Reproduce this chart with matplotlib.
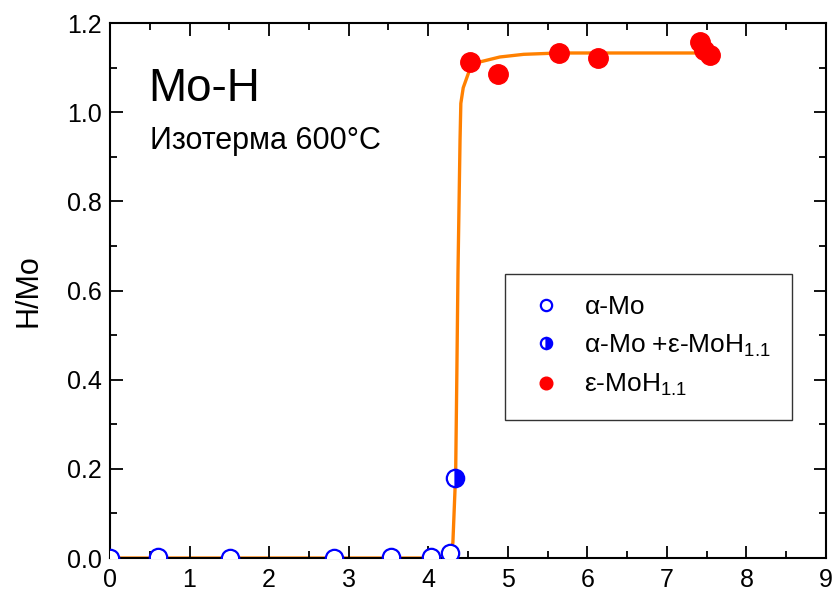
import matplotlib
matplotlib.use('Agg')
import matplotlib.pyplot as plt
from matplotlib.ticker import MultipleLocator

plt.rcParams['font.family'] = ['Liberation Sans', 'DejaVu Sans']
plt.rcParams['mathtext.fontset'] = 'custom'
plt.rcParams['mathtext.rm'] = 'Liberation Sans'

# alpha-Mo (open circles)
alpha_x = [0.0, 0.60, 1.51, 2.82, 3.53, 4.03, 4.27]
alpha_y = [0.000, 0.003, 0.001, 0.001, 0.002, 0.002, 0.012]

# two-phase point alpha-Mo + eps-MoH1.1
mix_x = [4.34]
mix_y = [0.179]

# eps-MoH1.1 (filled red)
eps_x = [4.52, 4.88, 5.64, 6.13, 7.42, 7.47, 7.54]
eps_y = [1.113, 1.086, 1.133, 1.122, 1.157, 1.140, 1.128]

# guide line through the isotherm
curve_x = [0.0, 4.15, 4.27, 4.31, 4.345, 4.36, 4.374, 4.40, 4.41, 4.44,
           4.52, 4.65, 4.90, 5.20, 5.64, 7.55]
curve_y = [0.0, 0.0, 0.004, 0.034, 0.19, 0.415, 0.639, 0.938, 1.02, 1.055,
           1.095, 1.113, 1.124, 1.130, 1.133, 1.133]

fig = plt.figure(figsize=(8.39, 5.93), dpi=100)
ax = fig.add_axes([0.1311, 0.059, 0.8534, 0.902])

ax.plot(curve_x, curve_y, color='#ff8000', lw=2.4, zorder=1)
ax.plot(alpha_x, alpha_y, 'o', ms=12.5, mfc='white', mec='#0000ff', mew=1.6,
        ls='none', label='α-Mo', zorder=3)
ax.plot(mix_x, mix_y, 'o', ms=12.5, fillstyle='right', mfc='#0000ff',
        markerfacecoloralt='white', mec='#0000ff', mew=1.6, ls='none',
        label=r'α-Mo +ε-MoH$_{\mathrm{1.1}}$', zorder=3)
ax.plot(eps_x, eps_y, 'o', ms=14, mfc='#ff0000', mec='#ff0000', ls='none',
        label=r'ε-MoH$_{\mathrm{1.1}}$', zorder=3)

ax.set_xlim(0, 9)
ax.set_ylim(0, 1.2)
ax.xaxis.set_major_locator(MultipleLocator(1))
ax.xaxis.set_minor_locator(MultipleLocator(0.5))
ax.yaxis.set_minor_locator(MultipleLocator(0.1))
ax.set_yticks([0, 0.2, 0.4, 0.6, 0.8, 1.0, 1.2])
ax.set_yticklabels(['0.0', '0.2', '0.4', '0.6', '0.8', '1.0', '1.2'])
ax.tick_params(which='both', direction='in', top=True, right=True, width=1.3)
ax.tick_params(which='major', length=9)
ax.tick_params(which='minor', length=5)
ax.tick_params(axis='x', labelsize=18, pad=7)
ax.tick_params(axis='y', labelsize=18, pad=6)
for sp in ax.spines.values():
    sp.set_linewidth(1.5)

ax.set_ylabel('H/Mo', fontsize=22, labelpad=17)

ax.text(0.053, 0.855, 'Mo-H', transform=ax.transAxes, fontsize=33)
ax.text(0.056, 0.765, 'Изотерма 600°C', transform=ax.transAxes, fontsize=22)

leg = ax.legend(loc='upper left', bbox_to_anchor=(0.552, 0.531), fontsize=19,
                markerscale=0.65, frameon=True, fancybox=False,
                edgecolor='black', handletextpad=0.7, borderpad=0.8,
                labelspacing=0.5, handlelength=1.5, borderaxespad=0)
leg.get_frame().set_linewidth(1.0)

fig.savefig('out.png', dpi=100)
